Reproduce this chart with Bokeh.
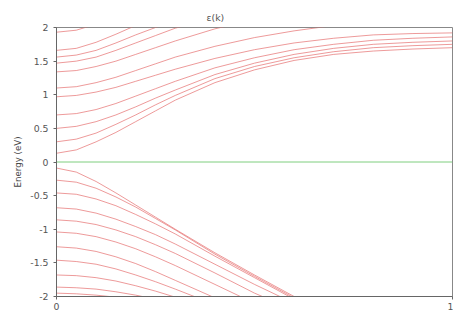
from bokeh.plotting import figure
from bokeh.models import Range1d, FixedTicker
from bokeh.embed import file_html
from bokeh.resources import INLINE

k = [0.0, 0.05, 0.1, 0.15, 0.2, 0.25, 0.3, 0.4, 0.5, 0.6, 0.7, 0.8, 0.9, 1.0]

conduction = [
    [0.13, 0.18, 0.30, 0.44, 0.60, 0.76, 0.92, 1.18, 1.37, 1.51, 1.60, 1.65, 1.68, 1.70],
    [0.30, 0.34, 0.43, 0.56, 0.70, 0.85, 0.99, 1.24, 1.42, 1.55, 1.64, 1.70, 1.73, 1.75],
    [0.50, 0.53, 0.60, 0.70, 0.82, 0.95, 1.07, 1.30, 1.47, 1.60, 1.69, 1.75, 1.78, 1.80],
    [0.70, 0.72, 0.78, 0.87, 0.98, 1.09, 1.20, 1.40, 1.55, 1.67, 1.75, 1.81, 1.84, 1.86],
    [0.97, 0.99, 1.04, 1.11, 1.20, 1.29, 1.38, 1.54, 1.67, 1.77, 1.84, 1.89, 1.91, 1.92],
    [1.10, 1.12, 1.18, 1.26, 1.36, 1.46, 1.56, 1.72, 1.85, 1.95, 2.03, 2.08, 2.11, 2.12],
    [1.34, 1.36, 1.42, 1.50, 1.60, 1.70, 1.80, 1.98, 2.12, 2.22, 2.28, 2.32, 2.34, 2.35],
    [1.47, 1.50, 1.56, 1.66, 1.77, 1.88, 1.99, 2.15, 2.28, 2.38, 2.44, 2.48, 2.50, 2.51],
    [1.56, 1.59, 1.66, 1.77, 1.89, 2.00, 2.10, 2.28, 2.42, 2.52, 2.58, 2.62, 2.64, 2.65],
    [1.66, 1.69, 1.78, 1.90, 2.03, 2.15, 2.26, 2.44, 2.58, 2.68, 2.74, 2.78, 2.80, 2.81],
    [1.93, 1.96, 2.05, 2.17, 2.30, 2.42, 2.53, 2.71, 2.85, 2.95, 3.01, 3.05, 3.07, 3.08],
]

valence = [
    [-0.09, -0.15, -0.29, -0.46, -0.64, -0.82, -1.00, -1.35, -1.68, -2.00, -2.30, -2.55, -2.75, -2.90],
    [-0.27, -0.30, -0.39, -0.52, -0.67, -0.84, -1.01, -1.37, -1.70, -2.02, -2.32, -2.57, -2.77, -2.92],
    [-0.46, -0.48, -0.55, -0.65, -0.78, -0.92, -1.07, -1.40, -1.72, -2.04, -2.34, -2.59, -2.79, -2.94],
    [-0.68, -0.70, -0.76, -0.85, -0.96, -1.08, -1.22, -1.52, -1.82, -2.10, -2.38, -2.62, -2.82, -2.96],
    [-0.86, -0.88, -0.93, -1.01, -1.11, -1.23, -1.36, -1.65, -1.95, -2.20, -2.45, -2.67, -2.86, -3.00],
    [-1.04, -1.06, -1.11, -1.19, -1.29, -1.41, -1.54, -1.82, -2.10, -2.35, -2.58, -2.78, -2.95, -3.08],
    [-1.26, -1.28, -1.33, -1.41, -1.51, -1.63, -1.76, -2.02, -2.28, -2.52, -2.74, -2.92, -3.07, -3.18],
    [-1.46, -1.48, -1.52, -1.59, -1.68, -1.78, -1.89, -2.12, -2.36, -2.60, -2.82, -3.00, -3.15, -3.26],
    [-1.68, -1.69, -1.72, -1.77, -1.84, -1.92, -2.01, -2.22, -2.44, -2.66, -2.86, -3.03, -3.17, -3.28],
    [-1.86, -1.87, -1.89, -1.93, -1.98, -2.04, -2.11, -2.28, -2.48, -2.68, -2.87, -3.04, -3.18, -3.29],
    [-1.95, -1.96, -1.98, -2.01, -2.05, -2.10, -2.16, -2.31, -2.49, -2.68, -2.87, -3.04, -3.18, -3.29],
]

fermi = [0.0, 0.0]
fermi_k = [0.0, 1.0]

x_ticks = [0, 1]
y_ticks = [-2, -1.5, -1, -0.5, 0, 0.5, 1, 1.5, 2]
y_tick_labels = {-2: "-2", -1.5: "-1.5", -1: "-1", -0.5: "-0.5", 0: "0",
                 0.5: "0.5", 1: "1", 1.5: "1.5", 2: "2"}

p = figure(width=453, height=312, output_backend="svg", toolbar_location=None,
           x_range=Range1d(0, 1), y_range=Range1d(-2, 2),
           min_border_left=56, min_border_right=1, min_border_top=27,
           min_border_bottom=15, title="ε(k)")

p.title.text_font = "DejaVu Sans"
p.title.text_font_size = "7pt"
p.title.text_font_style = "normal"
p.title.text_color = "#555555"
p.title.align = "left"
p.title.offset = 150

for band in conduction:
    p.line(k, band, line_color="#e46a6a", line_width=0.8, line_alpha=0.85)
for band in valence:
    p.line(k, band, line_color="#e46a6a", line_width=0.8, line_alpha=0.85)

p.line(fermi_k, fermi, line_color="#7fce7f", line_width=1)

p.xgrid.visible = False
p.ygrid.visible = False
p.outline_line_color = "#888888"
p.outline_line_width = 1

for ax in (p.xaxis[0], p.yaxis[0]):
    ax.axis_line_color = "#666666"
    ax.major_tick_line_color = "#666666"
    ax.minor_tick_line_color = None
    ax.major_tick_out = 3
    ax.major_tick_in = 0
    ax.major_label_text_font = "DejaVu Sans"
    ax.major_label_text_font_size = "7pt"
    ax.major_label_text_color = "#555555"

p.xaxis[0].ticker = FixedTicker(ticks=x_ticks)
p.xaxis[0].major_label_standoff = 3
p.yaxis[0].ticker = FixedTicker(ticks=y_ticks)
p.yaxis[0].major_label_overrides = y_tick_labels
p.yaxis[0].axis_label = "Energy (eV)"
p.yaxis[0].axis_label_text_font = "DejaVu Sans"
p.yaxis[0].axis_label_text_font_size = "6.5pt"
p.yaxis[0].axis_label_text_font_style = "normal"
p.yaxis[0].axis_label_text_color = "#444444"
p.yaxis[0].axis_label_standoff = 4

open("out.html", "w").write(file_html(p, INLINE))
